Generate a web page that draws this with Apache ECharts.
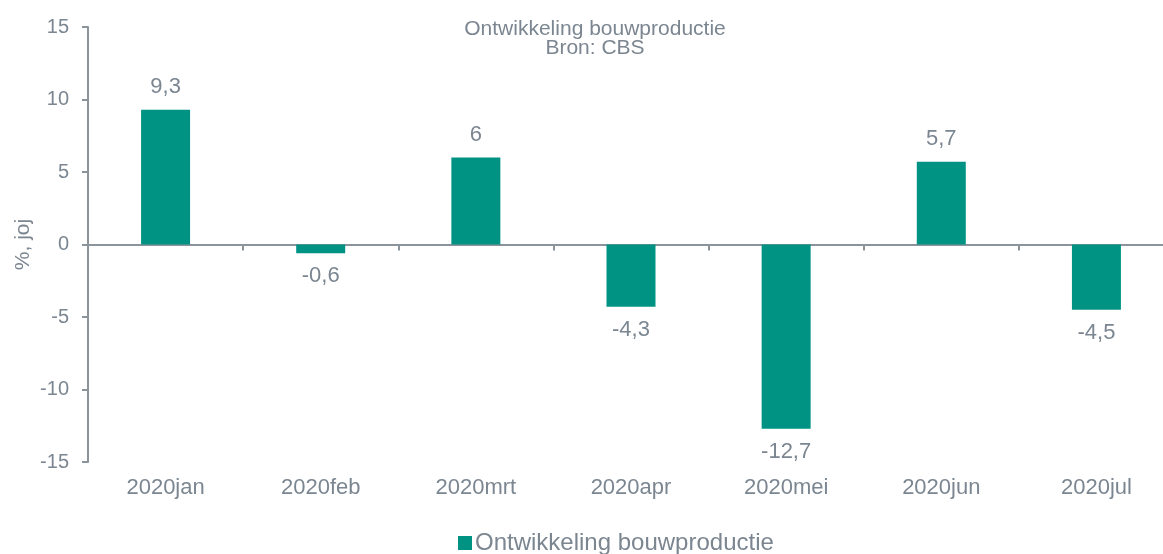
<!DOCTYPE html>
<html>
<head>
<meta charset="utf-8">
<script src="https://cdn.jsdelivr.net/npm/echarts@6/dist/echarts.min.js"></script>
<style>
  html, body { margin: 0; padding: 0; background: #fff; overflow: hidden; }
  #main { width: 1175px; height: 554px; }
</style>
</head>
<body>
<div id="main"></div>
<script>
// data
var months = ['2020jan', '2020feb', '2020mrt', '2020apr', '2020mei', '2020jun', '2020jul'];
var growth = [9.3, -0.6, 6, -4.3, -12.7, 5.7, -4.5];
var seriesName = 'Ontwikkeling bouwproductie';
var titleLines = ['Ontwikkeling bouwproductie', 'Bron: CBS'];
var yName = '%, joj';

var teal = '#009384';
var grey = '#7b8691';
var axisGrey = '#8b939b';
var font = '"Liberation Sans", Arial, sans-serif';

var myChart = echarts.init(document.getElementById('main'));

// label above positive bars, below negative ones
var barData = growth.map(function (v) {
  return { value: v, label: { position: v < 0 ? 'bottom' : 'top' } };
});

myChart.setOption({
  animation: false,
  title: {
    text: titleLines.join('\n'),
    left: 590,
    textAlign: 'center',
    top: 15,
    textStyle: { color: grey, fontSize: 21, fontWeight: 'normal', fontFamily: font, lineHeight: 19 }
  },
  legend: {
    data: [seriesName],
    left: 458,
    top: 531,
    padding: 0,
    itemWidth: 14,
    itemHeight: 14,
    icon: 'rect',
    textStyle: { color: grey, fontSize: 24, fontFamily: font, padding: [0, 0, 0, -2] }
  },
  grid: { left: 88, right: 1, top: 27, bottom: 92 },
  xAxis: [
    {
      type: 'category',
      data: months,
      axisLine: { onZero: true, lineStyle: { color: axisGrey, width: 2 } },
      axisTick: { show: true, length: 6, lineStyle: { color: axisGrey, width: 2 } },
      axisLabel: { show: false }
    },
    {
      type: 'category',
      data: months,
      position: 'bottom',
      axisLine: { show: false, onZero: false },
      axisTick: { show: false },
      axisLabel: { color: grey, fontSize: 22, fontFamily: font, margin: 15 }
    }
  ],
  yAxis: {
    type: 'value',
    min: -15,
    max: 15,
    interval: 5,
    name: yName,
    nameLocation: 'middle',
    nameGap: 54,
    nameMoveOverlap: false,
    nameTextStyle: { color: grey, fontSize: 21, fontFamily: font },
    axisLine: { show: true, lineStyle: { color: axisGrey, width: 2 } },
    axisTick: { show: true, length: 6, lineStyle: { color: axisGrey, width: 2 } },
    splitLine: { show: false },
    axisLabel: { color: grey, fontSize: 20, fontFamily: font, margin: 19 }
  },
  series: [
    {
      name: seriesName,
      type: 'bar',
      xAxisIndex: 0,
      barWidth: 49,
      itemStyle: { color: teal },
      data: barData,
      label: {
        show: true,
        distance: 12,
        color: grey,
        fontSize: 22,
        fontFamily: font,
        formatter: function (p) { return String(p.value).replace('.', ','); }
      }
    }
  ]
});
</script>
</body>
</html>
